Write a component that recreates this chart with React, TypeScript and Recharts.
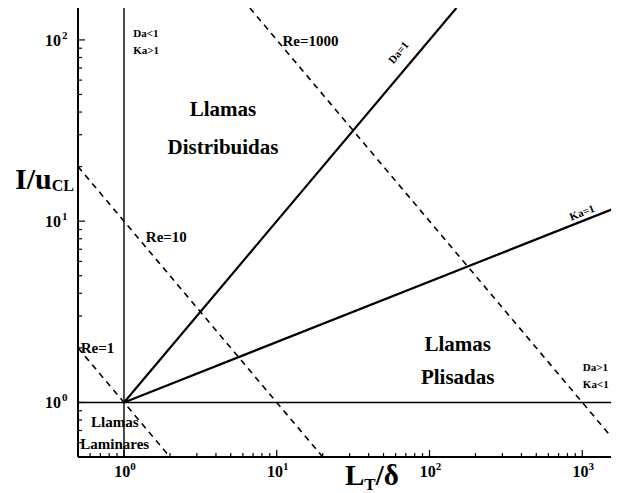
import React from "react";
import {
    ComposedChart,
    Line,
    XAxis,
    YAxis,
    ReferenceLine,
    ReferenceDot,
} from "recharts";

// log-log regime diagram: I/u_CL vs L_T/delta
const xTicks = [
    0.5, 0.6, 0.7, 0.8, 0.9, 1, 2, 3, 4, 5, 6, 7, 8, 9, 10, 20, 30, 40, 50, 60,
    70, 80, 90, 100, 200, 300, 400, 500, 600, 700, 800, 900, 1000,
];
const yTicks = [
    0.5, 0.6, 0.7, 0.8, 0.9, 1, 2, 3, 4, 5, 6, 7, 8, 9, 10, 20, 30, 40, 50, 60,
    70, 80, 90, 100,
];
const majorTicks = [1, 10, 100, 1000];
const tickExponent: Record<number, string> = { 1: "0", 10: "1", 100: "2", 1000: "3" };

// solid lines
const da1 = [
    { x: 1, y: 1 },
    { x: 150, y: 150 },
];
const ka1 = [
    { x: 1, y: 1 },
    { x: 1740, y: 12.03 },
];
// dashed Reynolds lines
const re1 = [
    { x: 0.5, y: 2 },
    { x: 2, y: 0.5 },
];
const re10 = [
    { x: 0.5, y: 20 },
    { x: 20, y: 0.5 },
];
const re1000 = [
    { x: 6.67, y: 150 },
    { x: 1740, y: 0.575 },
];

const regionLabels = [
    { text: "Llamas", x: 4.45, y: 38.2 },
    { text: "Distribuidas", x: 4.45, y: 23.6 },
    { text: "Llamas", x: 153, y: 1.93 },
    { text: "Plisadas", x: 153, y: 1.27 },
];
const laminarLabels = [
    { text: "Llamas", x: 0.87, y: 0.733 },
    { text: "Laminares", x: 0.87, y: 0.554 },
];
const reLabels = [
    { text: "Re=1000", x: 10.9, y: 92.3 },
    { text: "Re=10", x: 1.39, y: 7.67 },
    { text: "Re=1", x: 0.521, y: 1.885 },
];
const smallLabels = [
    { text: "Da<1", x: 1.15, y: 104 },
    { text: "Ka>1", x: 1.15, y: 83.4 },
    { text: "Da>1", x: 1009, y: 1.485 },
    { text: "Ka<1", x: 1009, y: 1.2 },
];
const lineLabels = [
    { text: "Da=1", x: 62.4, y: 85.5, angle: -50 },
    { text: "Ka=1", x: 995, y: 11.2, angle: -21.5 },
];

const FONT = "Liberation Serif, Times New Roman, serif";
const txt = { fontFamily: FONT, fontWeight: 700 as const };

const BottomTick = (props: any) => {
    const { x, y, payload } = props;
    const v = payload.value;
    const major = majorTicks.includes(v);
    return (
        <g>
            <line x1={x} x2={x} y1={y} y2={y - (major ? 7 : 4)} stroke="#000" strokeWidth={1.2} />
            {major && (
                <text x={x + 1} y={y + 20} textAnchor="middle" style={txt} fontSize={16} fill="#000">
                    10
                    <tspan dy={-7} fontSize={11}>
                        {tickExponent[v]}
                    </tspan>
                </text>
            )}
        </g>
    );
};

const TopTick = (props: any) => {
    const { x, y, payload } = props;
    const major = majorTicks.includes(payload.value);
    return <line x1={x} x2={x} y1={y} y2={y + (major ? 7 : 4)} stroke="#000" strokeWidth={1.2} />;
};

const LeftTick = (props: any) => {
    const { x, y, payload } = props;
    const v = payload.value;
    const major = majorTicks.includes(v);
    return (
        <g>
            <line x1={x} x2={x + (major ? 7 : 4)} y1={y} y2={y} stroke="#000" strokeWidth={1.2} />
            {major && (
                <text x={x - 17} y={y + 6} textAnchor="end" style={txt} fontSize={16} fill="#000">
                    10
                </text>
            )}
            {major && (
                <text x={x - 16} y={y - 1} textAnchor="start" style={txt} fontSize={11} fill="#000">
                    {tickExponent[v]}
                </text>
            )}
        </g>
    );
};

const textAt =
    (text: string, size: number, anchor: string, angle = 0) =>
    (p: any) => {
        const vb = p.viewBox || {};
        const x = vb.x ?? 0;
        const y = vb.y ?? 0;
        return (
            <text
                x={x}
                y={y}
                textAnchor={anchor}
                style={txt}
                fontSize={size}
                fill="#000"
                dominantBaseline={angle ? "central" : "auto"}
                transform={angle ? `rotate(${angle}, ${x}, ${y})` : undefined}
            >
                {text}
            </text>
        );
    };

const App: React.FC = () => {
    return (
        <div style={{ width: 611, height: 485, background: "#fff" }}>
            <ComposedChart width={611} height={485} margin={{ top: 0, right: 0, bottom: 0, left: 0 }}>
                <XAxis
                    type="number"
                    dataKey="x"
                    scale="log"
                    domain={[0.5, 1740]}
                    allowDataOverflow
                    ticks={xTicks}
                    interval={0}
                    height={36}
                    tickLine={false}
                    tickSize={0}
                    tickMargin={0}
                    axisLine={{ stroke: "#000", strokeWidth: 2 }}
                    tick={BottomTick}
                    label={() => (
                        <text x={337} y={477} style={txt} fontSize={29} fill="#000">
                            L
                            <tspan fontSize={17} dy={5}>
                                T
                            </tspan>
                            <tspan fontSize={29} dy={-5}>
                                /δ
                            </tspan>
                        </text>
                    )}
                />
                <XAxis
                    xAxisId="top"
                    orientation="top"
                    type="number"
                    dataKey="x"
                    scale="log"
                    domain={[0.5, 1740]}
                    allowDataOverflow
                    ticks={xTicks}
                    interval={0}
                    height={0}
                    tickLine={false}
                    tickSize={0}
                    tickMargin={0}
                    axisLine={{ stroke: "#000", strokeWidth: 2 }}
                    tick={TopTick}
                />
                <YAxis
                    type="number"
                    dataKey="y"
                    scale="log"
                    domain={[0.5, 150]}
                    allowDataOverflow
                    ticks={yTicks}
                    interval={0}
                    width={70}
                    tickLine={false}
                    tickSize={0}
                    tickMargin={0}
                    axisLine={{ stroke: "#000", strokeWidth: 2 }}
                    tick={LeftTick}
                    label={() => (
                        <text x={7} y={181} style={txt} fontSize={30} fill="#000">
                            I/u
                            <tspan fontSize={16} dy={2}>
                                CL
                            </tspan>
                        </text>
                    )}
                />
                <ReferenceLine x={1} stroke="#000" strokeWidth={1.4} />
                <ReferenceLine y={1} stroke="#000" strokeWidth={1.6} />
                <Line data={da1} dataKey="y" stroke="#000" strokeWidth={2.2} dot={false} isAnimationActive={false} />
                <Line data={ka1} dataKey="y" stroke="#000" strokeWidth={2.2} dot={false} isAnimationActive={false} />
                {[re1, re10, re1000].map((d, i) => (
                    <Line
                        key={i}
                        data={d}
                        dataKey="y"
                        stroke="#000"
                        strokeWidth={1.6}
                        strokeDasharray="6 5"
                        dot={false}
                        isAnimationActive={false}
                    />
                ))}
                {regionLabels.map((l, i) => (
                    <ReferenceDot key={"r" + i} x={l.x} y={l.y} r={0} fill="none" stroke="none" label={textAt(l.text, 21, "middle")} />
                ))}
                {laminarLabels.map((l, i) => (
                    <ReferenceDot key={"l" + i} x={l.x} y={l.y} r={0} fill="none" stroke="none" label={textAt(l.text, 15, "middle")} />
                ))}
                {reLabels.map((l, i) => (
                    <ReferenceDot key={"re" + i} x={l.x} y={l.y} r={0} fill="none" stroke="none" label={textAt(l.text, 15, "start")} />
                ))}
                {smallLabels.map((l, i) => (
                    <ReferenceDot key={"s" + i} x={l.x} y={l.y} r={0} fill="none" stroke="none" label={textAt(l.text, 11, "start")} />
                ))}
                {lineLabels.map((l, i) => (
                    <ReferenceDot
                        key={"ln" + i}
                        x={l.x}
                        y={l.y}
                        r={0}
                        fill="none"
                        stroke="none"
                        label={textAt(l.text, 11, "middle", l.angle)}
                    />
                ))}
            </ComposedChart>
        </div>
    );
};

export default App;
